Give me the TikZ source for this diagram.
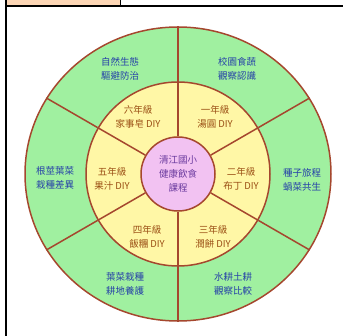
\documentclass[tikz,border=0pt]{standalone}
\usepackage{fontspec}
\newfontfamily\cjk{Noto Sans CJK TC}
\usetikzlibrary{shapes.geometric}
\definecolor{leafgreen}{HTML}{A0F0A0}
\definecolor{cornyellow}{HTML}{FFF7A6}
\definecolor{hubpink}{HTML}{F2C2F2}
\definecolor{rimbrown}{HTML}{A5472E}
\definecolor{topicblue}{HTML}{2540A8}
\definecolor{gradebrown}{HTML}{9A4E14}
\definecolor{hubpurple}{HTML}{6A3A9E}
\definecolor{tabpeach}{HTML}{FDD6B5}
\begin{document}
\begin{tikzpicture}[x=1pt,y=-1pt,
rim/.style ={ellipse, draw=rimbrown, line width=1.5pt, fill=leafgreen,
  minimum width=306pt, minimum height=294pt, inner sep=0pt
},
ring/.style ={circle, draw=rimbrown, line width=1.5pt, fill=cornyellow,
  minimum size=184pt, inner sep=0pt
},
hub/.style ={circle, draw=rimbrown, line width=1.5pt, fill=hubpink,
  minimum size=74pt, inner sep=0pt, text=hubpurple, align=center,
  font=\cjk\fontsize{9.5}{14}\selectfont
},
topic/.style ={text=topicblue, align=center,
  font=\cjk\fontsize{9.5}{13.5}\selectfont
},
grade/.style ={text=gradebrown, align=center,
  font=\cjk\fontsize{9.5}{13.5}\selectfont
},
divider/.style ={draw=rimbrown, line width=1.5pt}]
\useasboundingbox (0,0) rectangle (343,336);
% table cell frame
\fill[tabpeach] (7,0) rectangle (120,6);
\draw[line width=1pt] (120,0) -- (120,6);
\draw[line width=2pt] (6,6.5) -- (343,6.5);
\draw[line width=2pt] (6,0) -- (6,336);
% wheel
\node (rim) at (178,174) [rim] {};
\node (ring) at (178,174) [ring] {};
\node (hub) at (178,174) [hub] {清江國小\\健康飲食\\課程};
\foreach \a in {30,90,...,330} {
  \draw[divider] (hub.\a) -- (ring.\a);
  \draw[divider] (ring.\a) -- (rim.\a);
}
% grades
\node (g1) at (215,117) [grade] {一年級\\湯圓 DIY};
\node (g2) at (241,179) [grade] {二年級\\布丁 DIY};
\node (g3) at (213,237) [grade] {三年級\\潤餅 DIY};
\node (g4) at (147,237) [grade] {四年級\\飯糰 DIY};
\node (g5) at (112,179) [grade] {五年級\\果汁 DIY};
\node (g6) at (138,117) [grade] {六年級\\家事皂 DIY};
% topics
\node (t1) at (237,69) [topic] {校園食蔬\\觀察認識};
\node (t2) at (302,180) [topic] {種子旅程\\蝸菜共生};
\node (t3) at (233,284) [topic] {水耕土耕\\觀察比較};
\node (t4) at (125,284) [topic] {葉菜栽種\\耕地養護};
\node (t5) at (55,178) [topic] {根莖葉菜\\栽種差異};
\node (t6) at (120,69) [topic] {自然生態\\驅避防治};
\end{tikzpicture}
\end{document}
